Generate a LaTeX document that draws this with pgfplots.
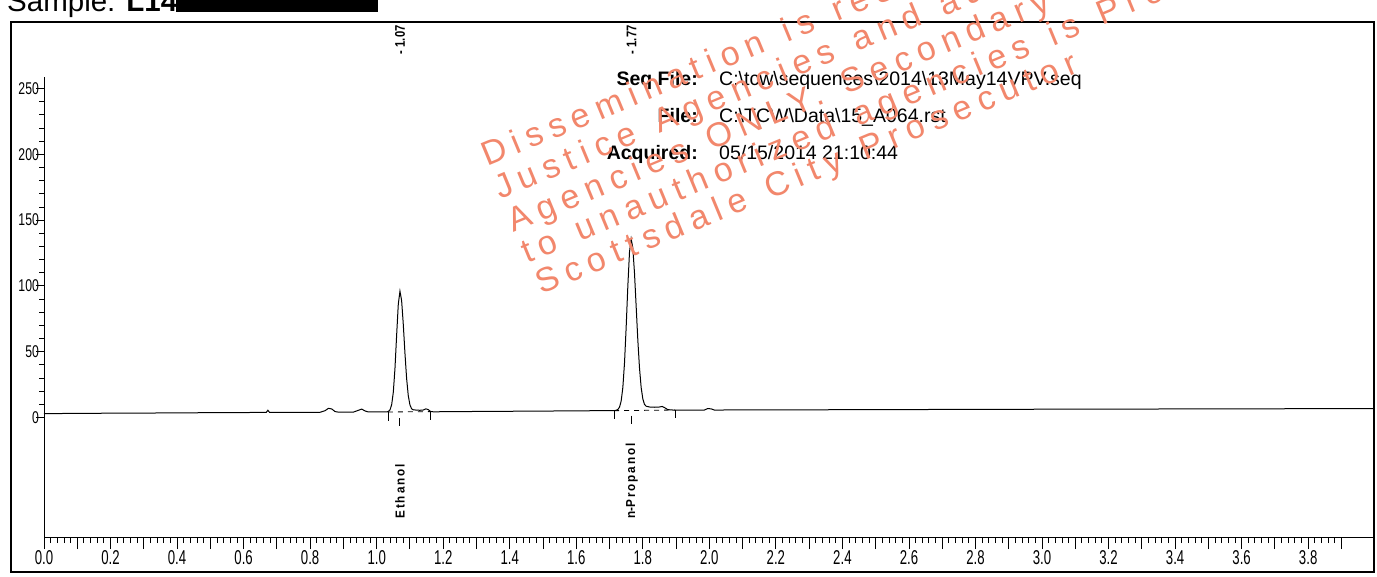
\documentclass[border=0pt]{standalone}
\usepackage{graphicx}
\usepackage{pgfplots}
\pgfplotsset{compat=1.18}
\usepackage{fontspec}
\setmainfont{Liberation Sans}
\newfontfamily\wmfont[LetterSpace=22]{Liberation Sans}
\definecolor{wm}{RGB}{242,135,108}
\newcommand{\ws}{\ \hspace{0.15em}}

\begin{document}
\begin{tikzpicture}
\path[use as bounding box] (0,0) rectangle (1377pt,-577pt);
\clip (0,0) rectangle (1377pt,-577pt);
\fill[white] (0,0) rectangle (1377pt,-577pt);
% outer frame
\draw[line width=1.3pt] (11pt,-22pt) rectangle (1374pt,-572pt);
% sample line
\node[anchor=base west, font=\fontsize{29.5}{30}\selectfont, inner sep=0pt] at (7pt,-12pt) {Sample: \textbf{L14-}};
\fill[black] (176pt,0pt) rectangle (378pt,-12pt);

\begin{axis}[
  at={(44pt,-537pt)}, anchor=south west,
  scale only axis, width=1330pt, height=459.5pt,
  xmin=0, xmax=3.998, ymin=-90.8, ymax=258.4,
  clip=false,
  axis x line*=bottom, axis y line*=left,
  axis line style={line width=1pt},
  tick align=outside,
  tick style={black, line width=0.9pt},
  /pgf/number format/assume math mode=true,
  xtick={0,0.1,0.2,0.3,0.4,0.5,0.6,0.7,0.8,0.9,1.0,1.1,1.2,1.3,1.4,1.5,1.6,1.7,1.8,1.9,2.0,2.1,2.2,2.3,2.4,2.5,2.6,2.7,2.8,2.9,3.0,3.1,3.2,3.3,3.4,3.5,3.6,3.7,3.8,3.9},
  xticklabels={0.0,,0.2,,0.4,,0.6,,0.8,,1.0,,1.2,,1.4,,1.6,,1.8,,2.0,,2.2,,2.4,,2.6,,2.8,,3.0,,3.2,,3.4,,3.6,,3.8,},
  minor x tick num=4,
  ytick={0,50,100,150,200,250},
  minor ytick={10,20,30,40,60,70,80,90,110,120,130,140,160,170,180,190,210,220,230,240},
  xtick style={/pgfplots/major tick length=12pt,/pgfplots/minor tick length=6pt},
  ytick style={/pgfplots/major tick length=8pt,/pgfplots/minor tick length=5pt},
  xticklabel shift=8pt,
  x tick label style={font=\fontsize{20}{20}\selectfont, xscale=0.66, inner sep=1pt},
  y tick label style={font=\fontsize{17}{17}\selectfont, xscale=0.72, inner sep=1pt},
]
% chromatogram trace
\addplot[black, line width=1pt] coordinates {
(0.000,3.0) (0.100,3.1) (0.200,3.3) (0.300,3.4) (0.400,3.5) (0.500,3.7) (0.600,3.8) (0.660,3.85)
(0.668,3.9) (0.673,5.5) (0.678,3.9) (0.750,4.0) (0.830,4.0) (0.845,5.2) (0.855,7.0) (0.865,6.5)
(0.875,4.5) (0.885,4.1) (0.930,4.1) (0.945,5.5) (0.955,6.4) (0.965,5.0) (0.975,4.2) (1.030,4.2)
(1.035,4.6) (1.040,5.8) (1.045,9.6) (1.050,19.2) (1.055,37.3) (1.060,62.5) (1.065,86.2) (1.070,96.0)
(1.075,88.9) (1.080,70.8) (1.085,48.9) (1.090,29.7) (1.095,16.6) (1.100,9.6) (1.105,6.6) (1.110,5.9)
(1.120,5.6) (1.130,5.5) (1.140,5.7) (1.148,6.6) (1.155,6.0) (1.162,4.6) (1.170,4.35) (1.300,4.6)
(1.500,4.9) (1.700,5.25) (1.715,5.3) (1.720,5.5) (1.725,6.1) (1.730,7.9) (1.735,12.6) (1.740,22.9)
(1.745,41.6) (1.750,68.9) (1.755,100.0) (1.760,125.7) (1.765,135.8) (1.770,128.8) (1.775,109.8)
(1.780,84.5) (1.785,58.9) (1.790,37.8) (1.795,22.9) (1.800,14.2) (1.805,10.0) (1.810,8.6) (1.820,8.0)
(1.835,7.8) (1.850,8.0) (1.858,8.4) (1.865,7.6) (1.875,6.0) (1.890,5.7) (1.950,5.6) (1.985,5.7)
(1.995,6.8) (2.005,6.6) (2.015,5.7) (2.200,5.8) (2.500,6.0) (3.000,6.3) (3.500,6.55) (3.998,6.8)
};
% integration baselines
\addplot[black, line width=0.8pt, dash pattern=on 5pt off 5pt] coordinates {(1.034,4.2) (1.163,4.5)};
\addplot[black, line width=0.8pt, dash pattern=on 5pt off 5pt] coordinates {(1.714,5.2) (1.897,5.7)};
% peak event marks
\addplot[black, line width=0.9pt] coordinates {(1.034,4.2) (1.034,-2.4)};
\addplot[black, line width=0.9pt] coordinates {(1.163,4.5) (1.163,-2.1)};
\addplot[black, line width=0.9pt] coordinates {(1.068,-0.6) (1.068,-6.8)};
\addplot[black, line width=0.9pt] coordinates {(1.714,5.2) (1.714,-1.0)};
\addplot[black, line width=0.9pt] coordinates {(1.897,5.7) (1.897,-0.4)};
\addplot[black, line width=0.9pt] coordinates {(1.767,1.5) (1.767,-5.3)};
% labels
\node[rotate=90, anchor=west, font=\bfseries\fontsize{13}{13}\selectfont, inner sep=0pt] at (axis cs:1.07,-77) {\scalebox{0.9}[1]{E\,t\,h\,a\,n\,o\,l}};
\node[rotate=90, anchor=west, font=\bfseries\fontsize{13}{13}\selectfont, inner sep=0pt] at (axis cs:1.767,-77) {\scalebox{0.9}[1]{n-P\,r\,o\,p\,a\,n\,o\,l}};
\node[rotate=90, anchor=west, font=\bfseries\fontsize{14}{14}\selectfont, inner sep=0pt] at (axis cs:1.07,276) {\scalebox{0.8}[1]{- 1.07}};
\node[rotate=90, anchor=west, font=\bfseries\fontsize{14}{14}\selectfont, inner sep=0pt] at (axis cs:1.766,276) {\scalebox{0.8}[1]{- 1.77}};
\end{axis}

% header
\node[anchor=base east, font=\bfseries\fontsize{19.5}{20}\selectfont, inner sep=0pt] at (698pt,-86pt) {Seq File:};
\node[anchor=base west, font=\fontsize{19.5}{20}\selectfont, inner sep=0pt] at (719pt,-86pt) {C:\textbackslash tcw\textbackslash sequences\textbackslash 2014\textbackslash 13May14VPV.seq};
\node[anchor=base east, font=\bfseries\fontsize{19.5}{20}\selectfont, inner sep=0pt] at (698pt,-123pt) {File:};
\node[anchor=base west, font=\fontsize{19.5}{20}\selectfont, inner sep=0pt] at (719pt,-123pt) {C:\textbackslash TCW\textbackslash Data\textbackslash 15\_A064.rst};
\node[anchor=base east, font=\bfseries\fontsize{19.5}{20}\selectfont, inner sep=0pt] at (698pt,-160pt) {Acquired:};
\node[anchor=base west, font=\fontsize{19.5}{20}\selectfont, inner sep=0pt] at (719pt,-160pt) {05/15/2014 21:10:44};

% watermark
\begin{scope}[every node/.style={anchor=base west, rotate=22.5, inner sep=0pt, text=wm, font=\wmfont\fontsize{34}{34}\selectfont}]
\node at (487pt,-167pt) {Dissemination\ws is\ws restricted\ws to\ws Criminal};
\node at (500pt,-200pt) {Justice\ws Agencies\ws and\ws authorized};
\node at (513pt,-233pt) {Agencies\ws ONLY.\ws Secondary\ws dissemination};
\node at (527pt,-264pt) {to\ws unauthorized\ws agencies\ws is\ws Prohibited};
\node at (541pt,-295pt) {Scottsdale\ws City\ws Prosecutor};
\end{scope}
\end{tikzpicture}
\end{document}
